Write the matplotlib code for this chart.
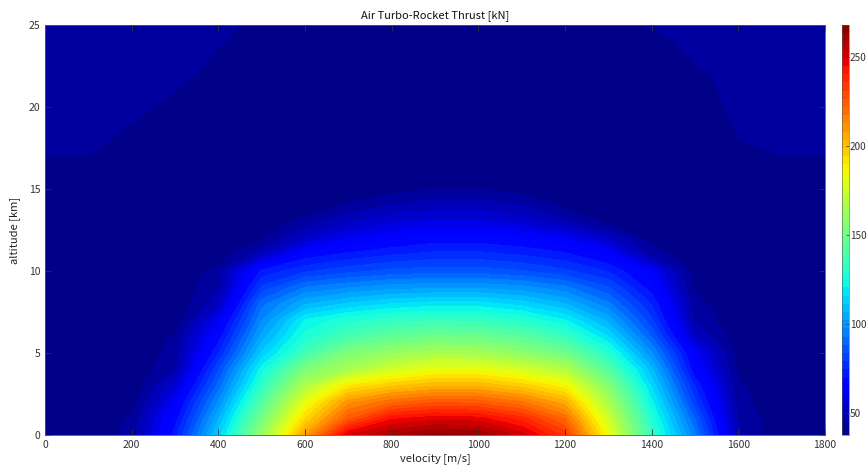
import numpy as np
import matplotlib
matplotlib.use("Agg")
import matplotlib.pyplot as plt

# grid (velocity in m/s, altitude in km)
velocity = [0, 100, 200, 300, 400, 500, 600, 700, 800, 900,
            1000, 1100, 1200, 1300, 1400, 1500, 1600, 1700, 1800]
altitude = [0, 1, 2, 3, 4, 5, 6, 7, 8, 9, 10, 11, 12, 13, 14, 15, 16, 18, 20, 22, 24, 25]

# thrust [kN], one row per altitude
thrust = [
    [38, 38, 44, 72, 113, 160, 208, 250, 259, 265, 263, 252, 234, 183, 133, 94, 48, 38, 38],
    [38, 38, 43, 67, 106, 151, 194, 225, 244, 248, 247, 238, 221, 175, 128, 88, 46, 38, 38],
    [38, 38, 39, 62, 98, 141, 182, 211, 221, 226, 225, 218, 205, 165, 122, 80, 44, 38, 38],
    [38, 38, 38, 54, 90, 131, 167, 190, 198, 203, 203, 197, 187, 155, 115, 74, 43, 38, 38],
    [38, 38, 38, 46, 83, 123, 153, 165, 176, 183, 183, 177, 168, 142, 108, 66, 41, 38, 38],
    [38, 38, 38, 44, 74, 112, 136, 154, 160, 165, 164, 158, 149, 129, 98, 62, 40, 38, 38],
    [38, 38, 38, 43, 67, 104, 127, 138, 145, 149, 148, 143, 134, 116, 88, 52, 38, 38, 38],
    [38, 38, 38, 38, 60, 97, 121, 128, 132, 134, 133, 129, 121, 105, 80, 46, 38, 38, 38],
    [38, 38, 38, 38, 50, 91, 106, 112, 116, 118, 118, 114, 107, 94, 74, 44, 38, 38, 38],
    [38, 38, 38, 38, 46, 80, 93, 97, 100, 101, 101, 99, 94, 84, 67, 41, 38, 38, 38],
    [38, 38, 38, 38, 44, 71, 78, 82, 85, 86, 86, 84, 80, 74, 62, 40, 38, 38, 38],
    [38, 38, 38, 38, 38, 50, 67, 71, 74, 76, 76, 74, 71, 64, 45, 38, 38, 38, 38],
    [38, 38, 38, 38, 38, 41, 52, 60, 64, 67, 67, 65, 61, 52, 40, 38, 38, 38, 38],
    [38, 38, 38, 38, 38, 38, 44, 51, 55, 57, 57, 54, 48, 40, 38, 38, 38, 38, 38],
    [38, 38, 38, 38, 38, 38, 38, 43, 47, 49, 49, 47, 41, 38, 38, 38, 38, 38, 38],
    [38, 38, 38, 38, 38, 38, 38, 38, 40, 42, 42, 40, 38, 38, 38, 38, 38, 38, 38],
    [38, 38, 38, 38, 38, 38, 38, 38, 38, 38, 38, 38, 38, 38, 38, 38, 38, 38, 38],
    [46, 46, 38, 38, 38, 38, 38, 38, 38, 38, 38, 38, 38, 38, 38, 38, 42, 46, 46],
    [46, 46, 46, 38, 38, 38, 38, 38, 38, 38, 38, 38, 38, 38, 38, 38, 44, 46, 46],
    [46, 46, 46, 46, 38, 38, 38, 38, 38, 38, 38, 38, 38, 38, 38, 40, 46, 46, 46],
    [46, 46, 46, 46, 43, 38, 38, 38, 38, 38, 38, 38, 38, 38, 38, 46, 46, 46, 46],
    [46, 46, 46, 46, 46, 38, 38, 38, 38, 38, 38, 38, 38, 38, 43, 46, 46, 46, 46],
]

cbar_ticks = [50, 100, 150, 200, 250]

plt.rcParams['font.family'] = ['Noto Sans CJK JP', 'DejaVu Sans']
plt.rcParams['font.size'] = 8

fig = plt.figure(figsize=(8.68, 4.71), dpi=100)
ax = fig.add_axes([45/868, 36/471, 780/868, 410/471])
cax = fig.add_axes([842/868, 36/471, 7/868, 410/471])

V, H = np.meshgrid(velocity, altitude)
Z = np.array(thrust, dtype=float)
levels = np.linspace(37.5, 268, 51)
cf = ax.contourf(V, H, Z, levels=levels, cmap='jet')

ax.set_xlim(0, 1800)
ax.set_ylim(0, 25)
ax.set_xticks(range(0, 1801, 200))
ax.set_yticks(range(0, 26, 5))
ax.tick_params(direction='in', top=True, right=True, length=4, width=0.6,
               colors='#333333', labelcolor='#333333', labelsize=7.5)
for sp in ax.spines.values():
    sp.set_color('#555555')
    sp.set_linewidth(0.6)
ax.set_xlabel("velocity [m/s]", color='#222222', labelpad=2)
ax.set_ylabel("altitude [km]", color='#222222', labelpad=6)
ax.set_title("Air Turbo-Rocket Thrust [kN]", fontsize=8, color='#111111', pad=5)

cb = fig.colorbar(cf, cax=cax, ticks=cbar_ticks)
cb.outline.set_linewidth(0.4)
cb.outline.set_edgecolor('#555555')
cax.tick_params(direction='in', length=2, width=0.5, labelsize=7.2, pad=0.5,
                colors='#333333', labelcolor='#333333')

plt.savefig("out.png", format="png", dpi=100)
